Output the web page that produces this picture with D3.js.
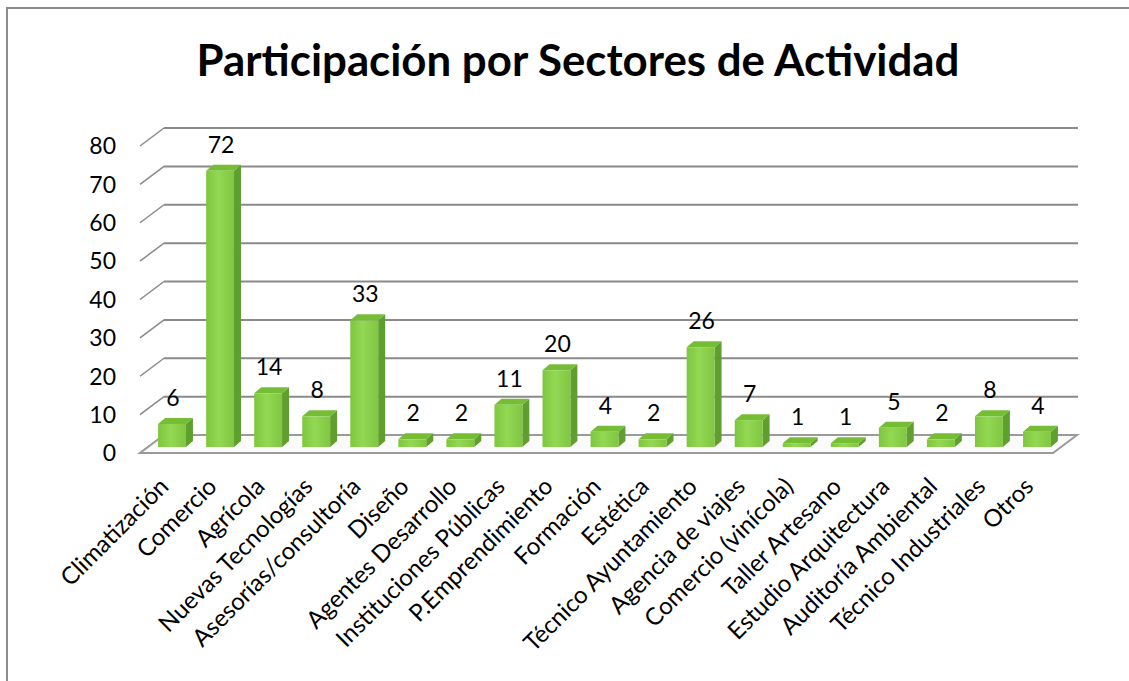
<!DOCTYPE html>
<html lang="es">
<head>
<meta charset="UTF-8"/>
<title>Participación por Sectores de Actividad</title>
<script src="https://d3js.org/d3.v7.js"></script>
<style>
  body { margin: 0; background: #fff; }
  text { font-family: Lato, "Open Sans", sans-serif; fill: #000; }
</style>
</head>
<body>
<div id="chart"></div>
<script>
// data
const categories = ["Climatización", "Comercio", "Agrícola", "Nuevas Tecnologías",
  "Asesorías/consultoría", "Diseño", "Agentes Desarrollo", "Instituciones Públicas",
  "P.Emprendimiento", "Formación", "Estética", "Técnico Ayuntamiento",
  "Agencia de viajes", "Comercio (vinícola)", "Taller Artesano", "Estudio Arquitectura",
  "Auditoría Ambiental", "Técnico Industriales", "Otros"];
const values = [6, 72, 14, 8, 33, 2, 2, 11, 20, 4, 2, 26, 7, 1, 1, 5, 2, 8, 4];
const yTicks = [0, 10, 20, 30, 40, 50, 60, 70, 80];
const title = "Participación por Sectores de Actividad";

const W = 1129, H = 681;
// 3d depth of the plot box and of each column
const depth = {dx: 24, dy: -18};
const barOff = {dx: 8, dy: -6};
const barDepth = {dx: 7, dy: -6};

const svg = d3.select("#chart")
  .append("svg")
    .attr("width", W)
    .attr("height", H);

// outer frame
svg.append("rect")
  .attr("x", 7).attr("y", 8)
  .attr("width", W).attr("height", H)
  .attr("fill", "none")
  .attr("stroke", "#8c8c8c")
  .attr("stroke-width", 2);

const x = d3.scaleBand()
  .domain(categories)
  .range([140, 1053])
  .paddingInner(0.42)
  .paddingOuter(0.21);

const y = d3.scaleLinear()
  .domain([0, 80])
  .range([453, 146]);

const bw = x.bandwidth();

// back wall gridlines + side wall diagonals
const grid = svg.append("g")
  .attr("stroke", "#8a8a8a")
  .attr("stroke-width", 2)
  .attr("fill", "none");

grid.selectAll(".back")
  .data(yTicks.slice(1))
  .join("line")
    .attr("x1", 140 + depth.dx)
    .attr("x2", 1053 + depth.dx + 1)
    .attr("y1", d => y(d) + depth.dy)
    .attr("y2", d => y(d) + depth.dy);

grid.selectAll(".side")
  .data(yTicks)
  .join("line")
    .attr("stroke-width", 1.5)
    .attr("x1", 140)
    .attr("y1", d => y(d))
    .attr("x2", 140 + depth.dx)
    .attr("y2", d => y(d) + depth.dy);

// floor
svg.append("path")
  .attr("d", `M140,${y(0)}L1053,${y(0)}L${1053 + depth.dx},${y(0) + depth.dy}L${140 + depth.dx},${y(0) + depth.dy}Z`)
  .attr("fill", "#fbfbfb")
  .attr("stroke", "#9a9a9a")
  .attr("stroke-width", 2);

// gradient for the front face of the columns
const defs = svg.append("defs");
const grad = defs.append("linearGradient").attr("id", "front");
grad.append("stop").attr("offset", "0%").attr("stop-color", "#7fc63f");
grad.append("stop").attr("offset", "45%").attr("stop-color", "#93d853");
grad.append("stop").attr("offset", "100%").attr("stop-color", "#80c640");

const data = categories.map((c, i) => ({cat: c, val: values[i]}));

const bars = svg.append("g")
  .selectAll("g")
  .data(data)
  .join("g");

const x0 = d => x(d.cat) + barOff.dx;
const yb = () => y(0) + barOff.dy;
const yt = d => y(d.val) + barOff.dy;

// right side
bars.append("path")
  .attr("fill", "#5f9f2d")
  .attr("d", d => `M${x0(d) + bw},${yb()}L${x0(d) + bw + barDepth.dx},${yb() + barDepth.dy}` +
    `L${x0(d) + bw + barDepth.dx},${yt(d) + barDepth.dy}L${x0(d) + bw},${yt(d)}Z`);

// top
bars.append("path")
  .attr("fill", "#76bd36")
  .attr("d", d => `M${x0(d)},${yt(d)}L${x0(d) + bw},${yt(d)}` +
    `L${x0(d) + bw + barDepth.dx},${yt(d) + barDepth.dy}L${x0(d) + barDepth.dx},${yt(d) + barDepth.dy}Z`);

// front
bars.append("rect")
  .attr("x", d => x0(d))
  .attr("y", d => yt(d))
  .attr("width", bw)
  .attr("height", d => yb() - yt(d))
  .attr("fill", "url(#front)");

// value labels
bars.append("text")
  .attr("x", d => x0(d) + bw / 2 + 1)
  .attr("y", d => yt(d) - 18)
  .attr("text-anchor", "middle")
  .style("font-size", "23px")
  .text(d => d.val);

// y axis labels
svg.append("g")
  .selectAll("text")
  .data(yTicks)
  .join("text")
    .attr("x", 116)
    .attr("y", d => y(d))
    .attr("dy", "0.36em")
    .attr("text-anchor", "end")
    .style("font-size", "23px")
    .text(d => d);

// category labels
svg.append("g")
  .selectAll("text")
  .data(categories)
  .join("text")
    .attr("text-anchor", "end")
    .style("font-size", "24px")
    .attr("transform", d => `translate(${x(d) + bw / 2 + 6},488) rotate(-45)`)
    .text(d => d);

// title, sized to the width it has in the picture
const t = svg.append("text")
  .attr("x", 578)
  .attr("y", 76)
  .attr("text-anchor", "middle")
  .style("font-weight", "bold")
  .style("font-size", "32px")
  .text(title);
const tw = t.node().getComputedTextLength();
t.style("font-size", (32 * 763 / tw).toFixed(1) + "px");
</script>
</body>
</html>
